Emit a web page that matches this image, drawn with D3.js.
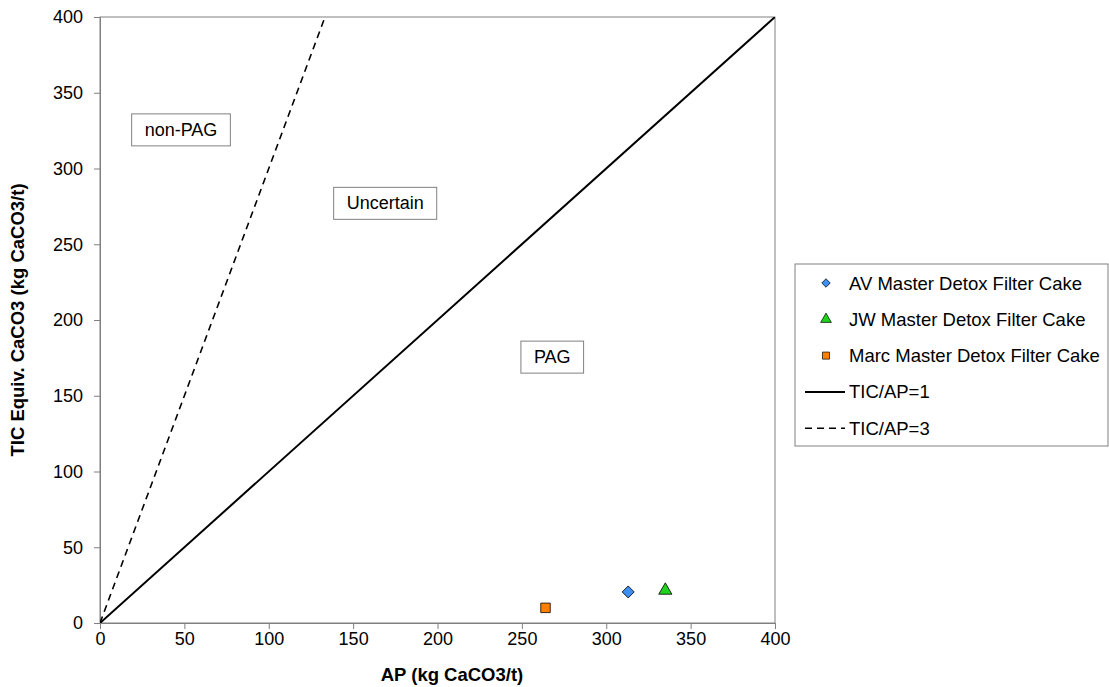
<!DOCTYPE html>
<html><head><meta charset="utf-8">
<script src="https://d3js.org/d3.v7.min.js"></script>
<style>body{margin:0;background:#fff;} text{font-family:"Liberation Sans",Arial,sans-serif;}</style>
</head><body>
<svg id="c" width="1109" height="687"></svg>
<script>
const seriesNames = ["AV Master Detox Filter Cake","JW Master Detox Filter Cake","Marc Master Detox Filter Cake"];
const seriesAP = [313, 335, 264];
const seriesTIC = [20.5, 21.5, 10];
const seriesColors = ["#3d8ff2","#1fd21f","#ff7f00"];
const seriesShapes = ["diamond","triangle","square"];
const lineNames = ["TIC/AP=1","TIC/AP=3"];
const lineRatios = [1, 3];
const xTicks = [0,50,100,150,200,250,300,350,400];
const yTicks = [0,50,100,150,200,250,300,350,400];
const regionLabels = ["non-PAG","Uncertain","PAG"];
const regionAP = [48, 169, 268];
const regionTIC = [325.5, 277, 175.5];

const svg = d3.select("#c");
const L=100,R=775,T=17,B=623;
const x = d3.scaleLinear().domain([0,400]).range([L,R]);
const y = d3.scaleLinear().domain([0,400]).range([B,T]);

svg.append("clipPath").attr("id","pc").append("rect").attr("x",L).attr("y",T).attr("width",R-L).attr("height",B-T);

svg.append("rect").attr("x",L).attr("y",T).attr("width",R-L).attr("height",B-T).attr("fill","none").attr("stroke","#808080").attr("stroke-width",1);

const xa = svg.append("g").attr("transform",`translate(0,${B})`).call(d3.axisBottom(x).tickValues(xTicks).tickSize(6).tickPadding(3));
const ya = svg.append("g").attr("transform",`translate(${L},0)`).call(d3.axisLeft(y).tickValues(yTicks).tickSize(6).tickPadding(11));
[xa,ya].forEach(a=>{
  a.select(".domain").attr("stroke","#808080");
  a.selectAll(".tick line").attr("stroke","#808080");
  a.selectAll(".tick text").attr("font-size",18).attr("fill","#000").attr("font-family","Liberation Sans, Arial, sans-serif");
});

const lg = svg.append("g").attr("clip-path","url(#pc)");
lineRatios.forEach((r,i)=>{
  lg.append("line").attr("x1",x(0)).attr("y1",y(0)).attr("x2",x(400/r)).attr("y2",y(400))
    .attr("stroke","#000").attr("stroke-width",i===0?2:1.6).attr("stroke-dasharray",i===0?null:"7,5");
});

regionLabels.forEach((t,i)=>{
  const g = svg.append("g");
  const tx = g.append("text").attr("x",x(regionAP[i])).attr("y",y(regionTIC[i])).attr("text-anchor","middle").attr("dominant-baseline","central").attr("font-size",18).text(t);
  const bb = tx.node().getBBox();
  g.insert("rect","text").attr("x",bb.x-13).attr("y",bb.y-6).attr("width",bb.width+26).attr("height",bb.height+12).attr("fill","#fff").attr("stroke","#808080");
});

function sym(shape,size){
  if(shape==="diamond") return d3.symbol(d3.symbolSquare,size)();
  if(shape==="triangle") return d3.symbol(d3.symbolTriangle,size)();
  return d3.symbol(d3.symbolSquare,size)();
}
const ptSize = {diamond:72, triangle:75, square:90};
seriesNames.forEach((n,i)=>{
  const s = seriesShapes[i];
  svg.append("path").attr("d",sym(s,ptSize[s]))
    .attr("transform",`translate(${x(seriesAP[i])},${y(seriesTIC[i])})${s==="diamond"?" rotate(45)":""}`)
    .attr("fill",seriesColors[i]).attr("stroke","#000").attr("stroke-width",0.8);
});

svg.append("text").attr("x",452).attr("y",681).attr("text-anchor","middle").attr("font-size",18.5).attr("font-weight","bold").text("AP (kg CaCO3/t)");
svg.append("text").attr("transform",`translate(24,${(T+B)/2}) rotate(-90)`).attr("text-anchor","middle").attr("font-size",18.5).attr("font-weight","bold").text("TIC Equiv. CaCO3 (kg CaCO3/t)");

const lgX=795, lgY=264;
svg.append("rect").attr("x",lgX).attr("y",lgY).attr("width",313).attr("height",182).attr("fill","#fff").attr("stroke","#808080");
const legSize = {diamond:36, triangle:50, square:50};
const items = seriesNames.map((n,i)=>({n,type:"pt",i})).concat(lineNames.map((n,i)=>({n,type:"ln",i})));
items.forEach((d,k)=>{
  const cy = lgY+19+k*36.3;
  if(d.type==="pt"){
    const s = seriesShapes[d.i];
    svg.append("path").attr("d",sym(s,legSize[s])).attr("transform",`translate(826,${cy})${s==="diamond"?" rotate(45)":""}`)
      .attr("fill",seriesColors[d.i]).attr("stroke","#000").attr("stroke-width",0.7);
  } else {
    svg.append("line").attr("x1",805).attr("x2",845).attr("y1",cy).attr("y2",cy).attr("stroke","#000")
      .attr("stroke-width",d.i===0?2:1.5).attr("stroke-dasharray",d.i===0?null:"7,5");
  }
  svg.append("text").attr("x",849).attr("y",cy).attr("dominant-baseline","central").attr("font-size",18.5).text(d.n);
});
</script>
</body></html>
